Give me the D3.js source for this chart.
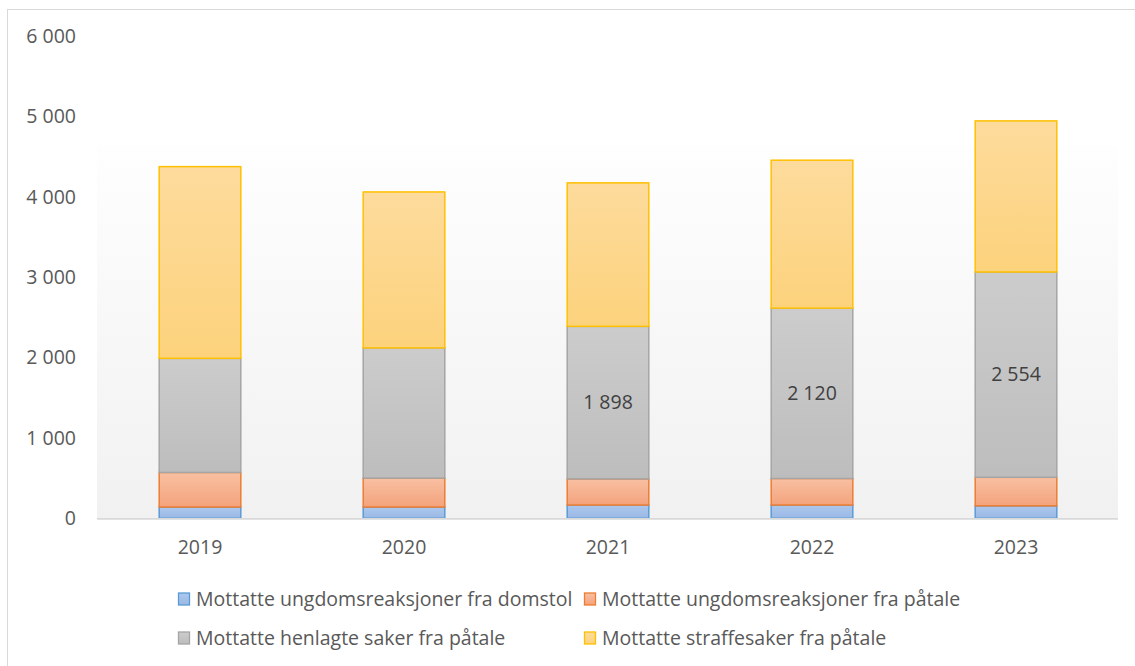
<!DOCTYPE html>
<html>
<head>
<meta charset="utf-8">
<script src="https://cdn.jsdelivr.net/npm/d3@7"></script>
<style>
  body { margin: 0; background: #fff; }
  svg text { font-family: 'Open Sans', sans-serif; }
</style>
</head>
<body>
<svg width="1135" height="666"></svg>
<script>
// data
const years = ['2019', '2020', '2021', '2022', '2023']
const domstol = [140, 140, 165, 165, 155]
const patale = [430, 360, 325, 330, 355]
const henlagte = [1420, 1620, 1898, 2120, 2554]
const straffesaker = [2385, 1940, 1785, 1840, 1880]
const yTicks = [0, 1000, 2000, 3000, 4000, 5000, 6000]
const seriesNames = [
  'Mottatte ungdomsreaksjoner fra domstol',
  'Mottatte ungdomsreaksjoner fra påtale',
  'Mottatte henlagte saker fra påtale',
  'Mottatte straffesaker fra påtale'
]
const labelledYears = ['2021', '2022', '2023'] // only these get a value label

const styles = [
  { top: '#adc8ee', bottom: '#99b8e4', stroke: '#5b9bd5' },
  { top: '#f8c0a2', bottom: '#f4a37c', stroke: '#ed7d31' },
  { top: '#cccccc', bottom: '#bdbdbd', stroke: '#a5a5a5' },
  { top: '#fddb9c', bottom: '#fcd27c', stroke: '#ffc000' }
]

const svg = d3.select('svg')
const defs = svg.append('defs')

const locale = d3.formatLocale({ decimal: ',', thousands: ' ', grouping: [3], currency: ['', ''] })
const fmt = locale.format(',')

const x = d3.scaleBand()
    .domain(years)
    .range([98, 1118])
    .paddingInner(0.6)
    .paddingOuter(0.3)

const y = d3.scaleLinear()
    .domain([0, 6000])
    .range([518.3, 36])

// outer chart border
svg.append('rect')
    .attr('x', 7.5).attr('y', 9.5)
    .attr('width', 1140).attr('height', 680)
    .attr('fill', '#fff')
    .attr('stroke', '#d9d9d9')

// plot area background
let bg = defs.append('linearGradient')
    .attr('id', 'bg').attr('x1', 0).attr('y1', 0).attr('x2', 0).attr('y2', 1)
bg.append('stop').attr('offset', 0).attr('stop-color', '#fefefe')
bg.append('stop').attr('offset', 1).attr('stop-color', '#f1f1f1')
svg.append('rect')
    .attr('x', 97).attr('y', 145)
    .attr('width', 1021).attr('height', y(0) - 145)
    .attr('fill', 'url(#bg)')

styles.forEach(function(s, i) {
  let g = defs.append('linearGradient')
      .attr('id', 'grad' + i).attr('x1', 0).attr('y1', 0).attr('x2', 0).attr('y2', 1)
  g.append('stop').attr('offset', 0).attr('stop-color', s.top)
  g.append('stop').attr('offset', 1).attr('stop-color', s.bottom)
})

const table = years.map(function(yr, i) {
  return { year: yr, s0: domstol[i], s1: patale[i], s2: henlagte[i], s3: straffesaker[i] }
})
const stack = d3.stack().keys(['s0', 's1', 's2', 's3'])(table)

// y axis labels
let yAxis = svg.append('g')
    .attr('transform', 'translate(97,0)')
    .call(d3.axisLeft(y).tickValues(yTicks).tickSize(0).tickPadding(21).tickFormat(fmt))
yAxis.select('.domain').remove()
yAxis.selectAll('text')
    .attr('fill', '#595959')
    .style('font-size', '19.5px')

// bars
const layers = svg.append('g').selectAll('g')
  .data(stack)
  .enter().append('g')

layers.selectAll('rect')
  .data(function(d) { return d })
  .enter().append('rect')
    .attr('x', function(d) { return x(d.data.year) })
    .attr('y', function(d) { return y(d[1]) })
    .attr('width', x.bandwidth())
    .attr('height', function(d) { return y(d[0]) - y(d[1]) })
    .attr('fill', function() { return 'url(#grad' + d3.select(this.parentNode).datum().index + ')' })
    .attr('stroke', function() { return styles[d3.select(this.parentNode).datum().index].stroke })
    .attr('stroke-width', 1.5)

// x axis line
svg.append('line')
    .attr('x1', 97).attr('x2', 1118)
    .attr('y1', y(0) + 0.5).attr('y2', y(0) + 0.5)
    .attr('stroke', '#d9d9d9')
    .attr('stroke-width', 1.8)

let xAxis = svg.append('g')
    .attr('transform', 'translate(0,' + y(0) + ')')
    .call(d3.axisBottom(x).tickSize(0).tickPadding(22))
xAxis.select('.domain').remove()
xAxis.selectAll('text')
    .attr('fill', '#595959')
    .style('font-size', '19.5px')

// value labels on the grey segment
svg.append('g').selectAll('text')
  .data(stack[2].filter(function(d) { return labelledYears.includes(d.data.year) }))
  .enter().append('text')
    .attr('x', function(d) { return x(d.data.year) + x.bandwidth() / 2 })
    .attr('y', function(d) { return (y(d[0]) + y(d[1])) / 2 })
    .attr('dy', '0.35em')
    .attr('text-anchor', 'middle')
    .attr('fill', '#404040')
    .style('font-size', '19.5px')
    .text(function(d) { return fmt(d.data.s2) })

// legend
const legendPos = [
  { x: 178, y: 599 },
  { x: 584, y: 599 },
  { x: 178, y: 638 },
  { x: 584, y: 638 }
]
let legend = svg.append('g').selectAll('g')
  .data(seriesNames)
  .enter().append('g')
    .attr('transform', function(d, i) { return 'translate(' + legendPos[i].x + ',' + legendPos[i].y + ')' })

legend.append('rect')
    .attr('x', 0.5).attr('y', -6)
    .attr('width', 11).attr('height', 12)
    .attr('fill', function(d, i) { return 'url(#grad' + i + ')' })
    .attr('stroke', function(d, i) { return styles[i].stroke })
    .attr('stroke-width', 1.3)

legend.append('text')
    .attr('x', 18)
    .attr('dy', '0.35em')
    .attr('fill', '#595959')
    .style('font-size', '19.5px')
    .text(function(d) { return d })
</script>
</body>
</html>
